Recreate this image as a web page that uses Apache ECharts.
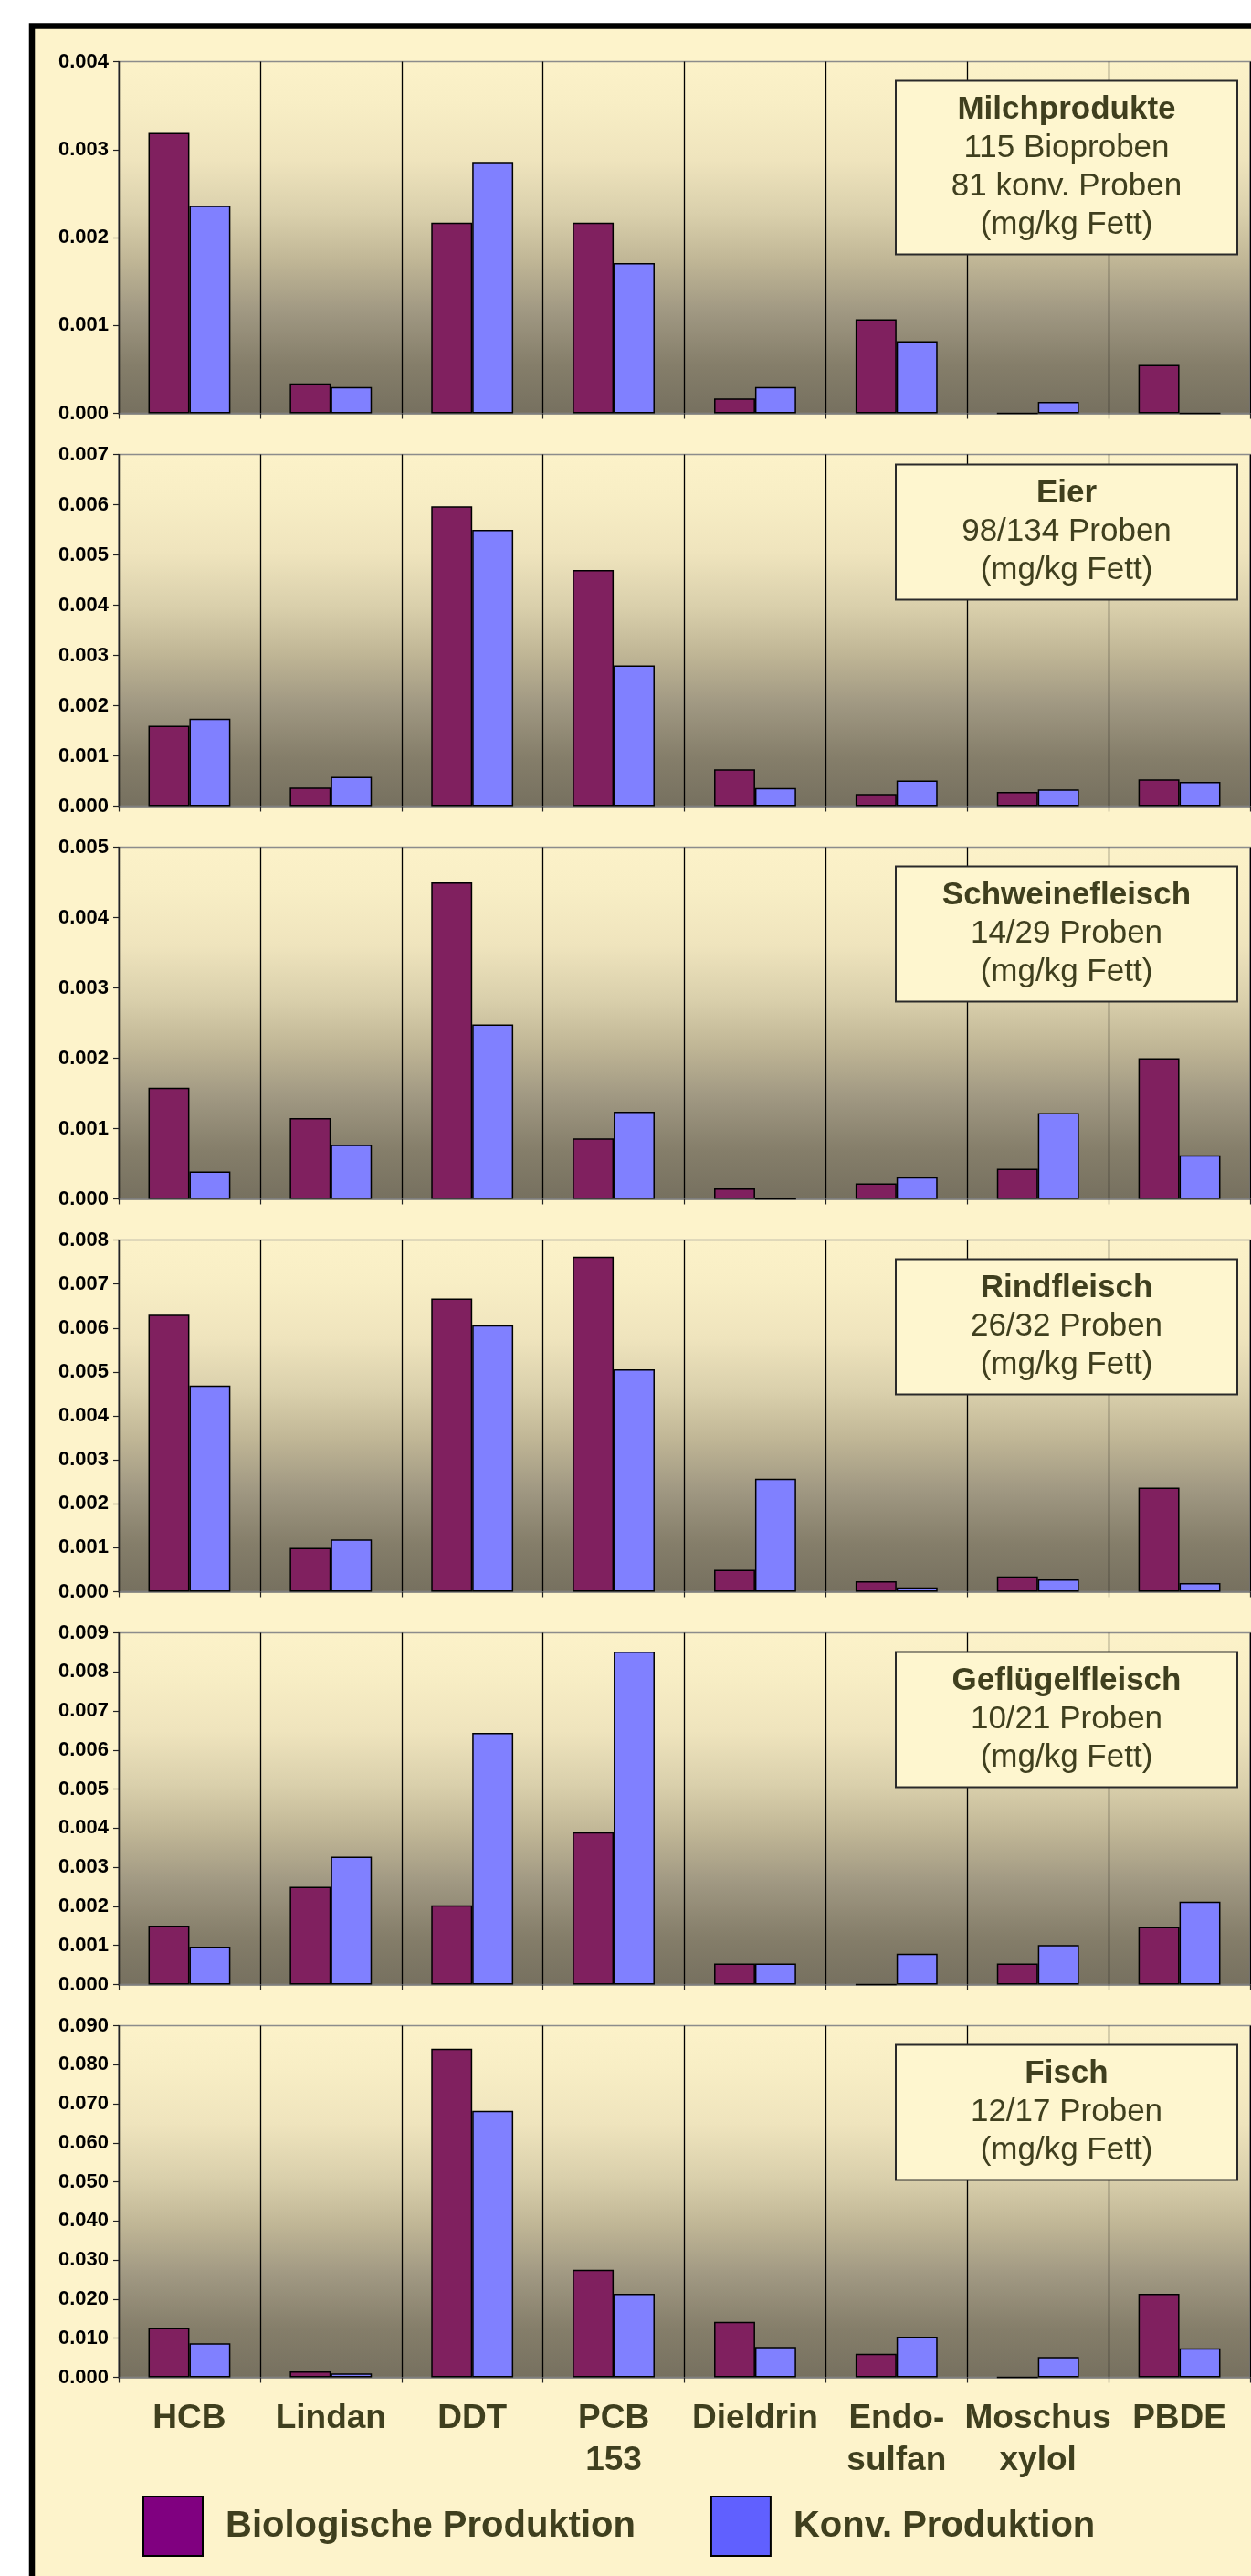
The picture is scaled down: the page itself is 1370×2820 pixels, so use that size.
<!DOCTYPE html>
<html>
<head>
<meta charset="utf-8">
<script src="https://cdn.jsdelivr.net/npm/echarts@6/dist/echarts.min.js"></script>
<style>
  html, body { margin: 0; padding: 0; background: #ffffff; }
  #chart { width: 1370px; height: 2820px; }
</style>
</head>
<body>
<div id="chart"></div>
<script>
// Substances on the category axis (shared by all six panels)
const categories = ['HCB', 'Lindan', 'DDT', 'PCB\n153', 'Dieldrin', 'Endo-\nsulfan', 'Moschus\nxylol', 'PBDE'];
const seriesNames = ['Biologische Produktion', 'Konv. Produktion'];

// Mean residues in mg/kg fat, organic vs. conventional
const milchBio   = [0.00319, 0.00034, 0.00217, 0.00217, 0.00017, 0.00107, 0.0,     0.00055];
const milchKonv  = [0.00236, 0.00030, 0.00286, 0.00171, 0.00030, 0.00082, 0.00013, 0.0];
const eierBio    = [0.00160, 0.00037, 0.00597, 0.00470, 0.00073, 0.00024, 0.00028, 0.00053];
const eierKonv   = [0.00174, 0.00058, 0.00550, 0.00280, 0.00036, 0.00051, 0.00033, 0.00048];
const schweinBio = [0.00158, 0.00115, 0.00450, 0.00086, 0.00015, 0.00022, 0.00043, 0.00200];
const schweinKonv= [0.00039, 0.00077, 0.00248, 0.00124, 0.0,     0.00031, 0.00122, 0.00062];
const rindBio    = [0.00630, 0.00100, 0.00667, 0.00762, 0.00050, 0.00024, 0.00035, 0.00237];
const rindKonv   = [0.00469, 0.00119, 0.00606, 0.00506, 0.00257, 0.00010, 0.00028, 0.00020];
const gefluegelBio  = [0.00151, 0.00250, 0.00203, 0.00390, 0.00054, 0.0,     0.00054, 0.00147];
const gefluegelKonv = [0.00097, 0.00327, 0.00644, 0.00852, 0.00054, 0.00079, 0.00101, 0.00212];
const fischBio   = [0.0126, 0.0015, 0.0841, 0.0275, 0.0142, 0.0060, 0.0,    0.0214];
const fischKonv  = [0.0087, 0.0010, 0.0682, 0.0214, 0.0078, 0.0104, 0.0052, 0.0074];

// Panel captions
const panelTitles = ['Milchprodukte', 'Eier', 'Schweinefleisch', 'Rindfleisch', 'Geflügelfleisch', 'Fisch'];
const panelLines = [
  ['115 Bioproben', '81 konv. Proben', '(mg/kg Fett)'],
  ['98/134 Proben', '(mg/kg Fett)'],
  ['14/29 Proben', '(mg/kg Fett)'],
  ['26/32 Proben', '(mg/kg Fett)'],
  ['10/21 Proben', '(mg/kg Fett)'],
  ['12/17 Proben', '(mg/kg Fett)']
];

// Value axis ranges (tick labels are 0.000 … max in steps)
const yMax  = [0.004, 0.007, 0.005, 0.008, 0.009, 0.090];
const yStep = [0.001, 0.001, 0.001, 0.001, 0.001, 0.010];

const bioValues  = [milchBio, eierBio, schweinBio, rindBio, gefluegelBio, fischBio];
const konvValues = [milchKonv, eierKonv, schweinKonv, rindKonv, gefluegelKonv, fischKonv];

// ---- layout ----
const FONT = '"Liberation Sans", Arial, Helvetica, sans-serif';
const TEXT_DARK = '#3f3f1e';
const PLOT_LEFT = 130, PLOT_WIDTH = 1239;
const PANEL_TOP0 = 67.5, PANEL_PITCH = 430, PANEL_H = 385;
const BOX_X = 981, BOX_W = 374;
const BOX_OFFSET = [21, 11, 21, 21, 21, 21];
const LINE_H = 42;

const plotFill = {
  type: 'linear', x: 0, y: 0, x2: 0, y2: 1,
  colorStops: [
    { offset: 0.00, color: '#fcf2c9' },
    { offset: 0.12, color: '#f8eec5' },
    { offset: 0.28, color: '#efe4bd' },
    { offset: 0.43, color: '#dad0ac' },
    { offset: 0.57, color: '#bfb595' },
    { offset: 0.71, color: '#a09882' },
    { offset: 0.86, color: '#857e6a' },
    { offset: 1.00, color: '#76705f' }
  ]
};

const grids = [], xAxes = [], yAxes = [], series = [], graphics = [];
const last = bioValues.length - 1;

// outer cream panel with heavy black frame (continues past right/bottom edge)
graphics.push({
  type: 'rect', z: -10, silent: true,
  shape: { x: 35, y: 28.5, width: 2000, height: 3000 },
  style: { fill: '#fdf3cb', stroke: '#000000', lineWidth: 6.5 }
});

bioValues.forEach((bio, i) => {
  const top = PANEL_TOP0 + i * PANEL_PITCH;
  grids.push({
    left: PLOT_LEFT, width: PLOT_WIDTH, top: top, height: PANEL_H,
    show: true, backgroundColor: plotFill,
    borderColor: '#8c8c8c', borderWidth: 1.5,
    outerBoundsMode: 'none', containLabel: false
  });
  xAxes.push({
    type: 'category', gridIndex: i, data: categories, boundaryGap: true,
    axisLine: { show: true, lineStyle: { color: '#7a7a7a', width: 1.5 } },
    axisTick: { show: true, length: 6, interval: 0, lineStyle: { color: '#222222', width: 1.2 } },
    splitLine: { show: true, interval: 0, lineStyle: { color: '#000000', width: 1.3 } },
    axisLabel: {
      show: i === last, interval: 0, margin: 22,
      fontFamily: FONT, fontSize: 37, fontWeight: 'bold', color: TEXT_DARK, lineHeight: 46
    }
  });
  yAxes.push({
    type: 'value', gridIndex: i, min: 0, max: yMax[i], interval: yStep[i],
    axisLine: { show: true, lineStyle: { color: '#222222', width: 1.2 } },
    axisTick: { show: true, length: 6, lineStyle: { color: '#222222', width: 1.2 } },
    splitLine: { show: false },
    axisLabel: {
      margin: 11, fontFamily: FONT, fontSize: 22, fontWeight: 'bold', color: '#000000',
      formatter: v => v.toFixed(3)
    }
  });
  series.push({
    type: 'bar', name: seriesNames[0], xAxisIndex: i, yAxisIndex: i, data: bio,
    barGap: '0%', barCategoryGap: '42%',
    itemStyle: { color: '#80205f', borderColor: '#000000', borderWidth: 1.5 }
  });
  series.push({
    type: 'bar', name: seriesNames[1], xAxisIndex: i, yAxisIndex: i, data: konvValues[i],
    barGap: '0%', barCategoryGap: '42%',
    itemStyle: { color: '#8080ff', borderColor: '#000000', borderWidth: 1.5 }
  });

  // caption box
  const lines = panelLines[i];
  const boxTop = top + BOX_OFFSET[i];
  const boxH = (lines.length + 1) * LINE_H + 22;
  graphics.push({
    type: 'rect', z: 100, silent: true,
    shape: { x: BOX_X, y: boxTop, width: BOX_W, height: boxH },
    style: { fill: '#fef6cf', stroke: '#2a2a2a', lineWidth: 2 }
  });
  graphics.push({
    type: 'text', z: 101, silent: true,
    x: BOX_X + BOX_W / 2, y: boxTop + boxH / 2,
    style: {
      text: '{t|' + panelTitles[i] + '}\n' + lines.map(s => '{s|' + s + '}').join('\n'),
      align: 'center', verticalAlign: 'middle',
      rich: {
        t: { fontFamily: FONT, fontSize: 35, fontWeight: 'bold', fill: TEXT_DARK, lineHeight: LINE_H, align: 'center' },
        s: { fontFamily: FONT, fontSize: 35, fontWeight: 'normal', fill: TEXT_DARK, lineHeight: LINE_H, align: 'center' }
      }
    }
  });
});

const chart = echarts.init(document.getElementById('chart'), null, { renderer: 'canvas' });
chart.setOption({
  animation: false,
  backgroundColor: '#ffffff',
  grid: grids,
  xAxis: xAxes,
  yAxis: yAxes,
  series: series,
  graphic: graphics,
  legend: {
    left: 151, top: 2727, orient: 'horizontal',
    icon: 'rect', itemWidth: 65, itemHeight: 65, itemGap: 82,
    selectedMode: false,
    data: [
      { name: seriesNames[0], itemStyle: { color: '#800080', borderColor: '#000000', borderWidth: 2 } },
      { name: seriesNames[1], itemStyle: { color: '#6060ff', borderColor: '#000000', borderWidth: 2 } }
    ],
    textStyle: { fontFamily: FONT, fontSize: 40, fontWeight: 'bold', color: TEXT_DARK, padding: [0, 0, 0, 20] }
  }
});
</script>
</body>
</html>
